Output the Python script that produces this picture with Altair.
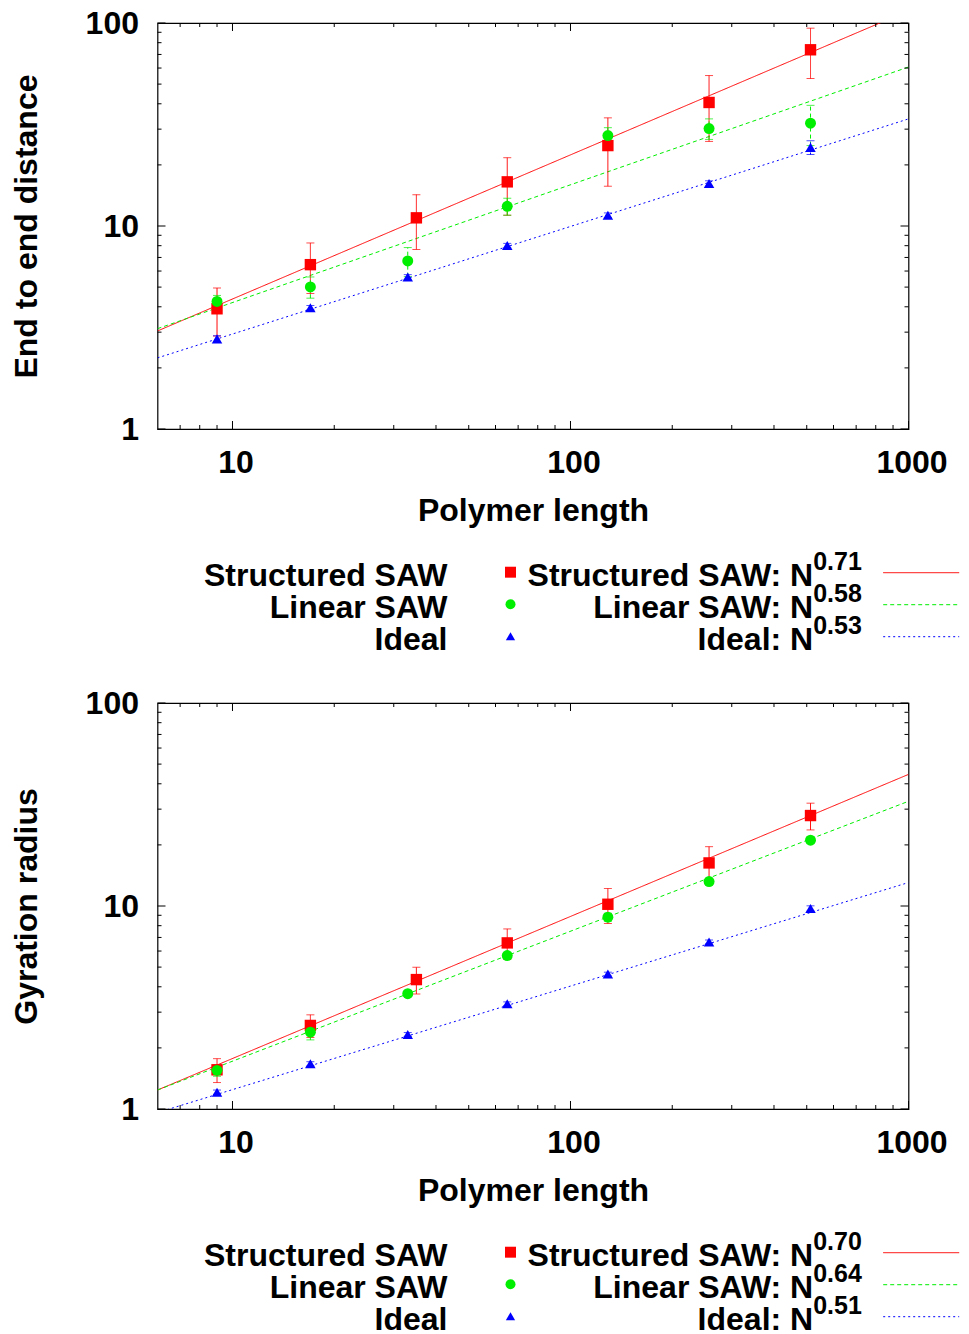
import altair as alt
import pandas as pd

# ---------------- data ----------------
SERIES = ["Structured SAW", "Linear SAW", "Ideal"]
FIT_LABELS = ["Structured SAW: N", "Linear SAW: N", "Ideal: N"]
COLORS = ["#ff0000", "#00ee00", "#0000ff"]
SHAPES = ["square", "circle", "triangle-up"]
SIZES = [130, 110, 95]
DASHES = [[1, 0], [4, 3], [2, 3]]

N_STRUCT = [9, 17, 35, 65, 129, 257, 513]
N_LIN = [9, 17, 33, 65, 129, 257, 513]
N_IDEAL = [9, 17, 33, 65, 129, 257, 513]

# panel 1: end to end distance
E2E_STRUCT = [3.91, 6.45, 10.97, 16.5, 24.9, 40.6, 73.8]
E2E_STRUCT_ERR = [1.04, 1.8, 3.3, 5.2, 9.2, 14.5, 20.5]
E2E_LIN = [4.25, 5.01, 6.73, 12.5, 27.9, 30.2, 32.1]
E2E_LIN_ERR = [0.3, 0.6, 1.1, 1.2, 2.6, 3.5, 7.2]
E2E_IDEAL = [2.78, 3.96, 5.61, 8.01, 11.3, 16.2, 24.4]
E2E_IDEAL_ERR = [0.1, 0.1, 0.15, 0.2, 0.3, 0.5, 1.9]
E2E_EXP = ["0.71", "0.58", "0.53"]
E2E_FIT_START = [3.04, 3.12, 2.24]      # fit value at N = 6
E2E_FIT_END = [114.9, 60.7, 33.7]       # fit value at N = 1000

# panel 2: gyration radius
RG_STRUCT = [1.56, 2.58, 4.34, 6.58, 10.2, 16.3, 27.9]
RG_STRUCT_ERR = [0.21, 0.33, 0.65, 1.13, 2.0, 3.3, 4.2]
RG_LIN = [1.55, 2.39, 3.70, 5.70, 8.81, 13.2, 21.1]
RG_LIN_ERR = [0.1, 0.2, 0.1, 0.15, 0.4, 0.5, 0.8]
RG_IDEAL = [1.21, 1.67, 2.33, 3.30, 4.62, 6.65, 9.72]
RG_IDEAL_ERR = [0.03, 0.04, 0.05, 0.07, 0.1, 0.15, 0.3]
RG_EXP = ["0.70", "0.64", "0.51"]
RG_FIT_START = [1.24, 1.24, 0.96]
RG_FIT_END = [44.5, 32.8, 13.05]

FIT_N = [6, 1000]
X_TICKS = [10, 100, 1000]
X_MINOR = [7, 8, 9, 20, 30, 40, 50, 60, 70, 80, 90,
           200, 300, 400, 500, 600, 700, 800, 900]
Y_TICKS = [1, 10, 100]
Y_MINOR = [2, 3, 4, 5, 6, 7, 8, 9, 20, 30, 40, 50, 60, 70, 80, 90]

# ---------------- layout / style ----------------
W, H = 751, 406
FONT = "Liberation Sans"
FS = 32
EXP_FS = 25
MAJOR_LEN, MINOR_LEN = 8, 4

LEG_LEFT_X = 290
LEG_SYM_X = 353
LEG_RIGHT_X = 655.7
LEG_LINE_X1, LEG_LINE_X2 = 725.7, 801.7
LEG_BASE_Y = 562.7
LEG_ROW = 32
SYM_DY = -13.5
EXP_DY = -15.3
LINE_DY = -13


def panel(ytitle, vals, errs, exps, fit_start, fit_end):
    rows = []
    for s, ns, v, e in zip(SERIES, [N_STRUCT, N_LIN, N_IDEAL], vals, errs):
        for n, vv, ee in zip(ns, v, e):
            rows.append({"series": s, "N": n, "v": vv, "lo": vv - ee, "hi": vv + ee})
    df = pd.DataFrame(rows)
    fit = pd.DataFrame([{"series": s, "N": n, "v": y}
                        for s, a, b in zip(SERIES, fit_start, fit_end)
                        for n, y in zip(FIT_N, [a, b])])

    xs = alt.Scale(type="log", domain=[6, 1000], nice=False)
    ys = alt.Scale(type="log", domain=[1, 100], nice=False)
    color = alt.Color("series:N", scale=alt.Scale(domain=SERIES, range=COLORS), legend=None)
    dash = alt.StrokeDash("series:N", scale=alt.Scale(domain=SERIES, range=DASHES), legend=None)

    xaxis = alt.Axis(values=X_TICKS, format="d", ticks=False, tickSize=0, domain=False,
                     grid=False, labelFont=FONT, labelFontSize=FS, labelFontWeight="bold",
                     labelColor="black", labelPadding=18, labelOffset=3, labelFlush=False,
                     labelOverlap=False, title="Polymer length", titleFont=FONT,
                     titleFontSize=FS, titleFontWeight="bold", titleColor="black",
                     titleBaseline="alphabetic", titleY=91)
    yaxis = alt.Axis(values=Y_TICKS, format="d", ticks=False, tickSize=0, domain=False,
                     grid=False, labelFont=FONT, labelFontSize=FS, labelFontWeight="bold",
                     labelColor="black", labelPadding=19, labelFlush=False,
                     labelOverlap=False, title=ytitle, titleFont=FONT,
                     titleFontSize=FS, titleFontWeight="bold", titleColor="black",
                     titleAngle=270, titleBaseline="alphabetic", titleAlign="center",
                     titleX=-121, titleY=H / 2)

    X = alt.X("N:Q", scale=xs, axis=xaxis)
    Y = alt.Y("v:Q", scale=ys, axis=yaxis)

    lines = alt.Chart(fit).mark_line(clip=True, strokeWidth=1).encode(
        x=X, y=Y, color=color, strokeDash=dash, detail="series:N")
    ebars = alt.Chart(df).mark_rule(strokeWidth=1).encode(
        x=alt.X("N:Q", scale=xs), y=alt.Y("lo:Q", scale=ys), y2="hi:Q",
        color=color, strokeDash=dash)
    cap_lo = alt.Chart(df).mark_tick(orient="horizontal", size=8, thickness=1).encode(
        x=alt.X("N:Q", scale=xs), y=alt.Y("lo:Q", scale=ys), color=color)
    cap_hi = alt.Chart(df).mark_tick(orient="horizontal", size=8, thickness=1).encode(
        x=alt.X("N:Q", scale=xs), y=alt.Y("hi:Q", scale=ys), color=color)
    pts = alt.Chart(df).mark_point(filled=True, opacity=1).encode(
        x=X, y=Y, color=color,
        shape=alt.Shape("series:N", scale=alt.Scale(domain=SERIES, range=SHAPES), legend=None),
        size=alt.Size("series:N", scale=alt.Scale(domain=SERIES, range=SIZES), legend=None))

    layers = [lines, ebars, cap_lo, cap_hi, pts]

    # inward ticks on all four sides
    for vals_, ln in ((X_TICKS, MAJOR_LEN), (X_MINOR, MINOR_LEN)):
        tdf = pd.DataFrame({"N": vals_})
        layers.append(alt.Chart(tdf).mark_rule(color="black", strokeWidth=1).encode(
            x=alt.X("N:Q", scale=xs), y=alt.value(H), y2=alt.value(H - ln)))
        layers.append(alt.Chart(tdf).mark_rule(color="black", strokeWidth=1).encode(
            x=alt.X("N:Q", scale=xs), y=alt.value(0), y2=alt.value(ln)))
    for vals_, ln in ((Y_TICKS, MAJOR_LEN), (Y_MINOR, MINOR_LEN)):
        tdf = pd.DataFrame({"v": vals_})
        layers.append(alt.Chart(tdf).mark_rule(color="black", strokeWidth=1).encode(
            y=alt.Y("v:Q", scale=ys), x=alt.value(0), x2=alt.value(ln)))
        layers.append(alt.Chart(tdf).mark_rule(color="black", strokeWidth=1).encode(
            y=alt.Y("v:Q", scale=ys), x=alt.value(W), x2=alt.value(W - ln)))

    # gnuplot-style key below the plot
    for i in range(3):
        by = LEG_BASE_Y + i * LEG_ROW
        layers.append(alt.Chart(pd.DataFrame({"t": [SERIES[i]]})).mark_text(
            align="right", baseline="alphabetic", font=FONT, fontSize=FS,
            fontWeight="bold", color="black").encode(
            text="t:N", x=alt.value(LEG_LEFT_X), y=alt.value(by)))
        layers.append(alt.Chart(pd.DataFrame({"t": [SERIES[i]]})).mark_point(
            filled=True, opacity=1, shape=SHAPES[i], size=SIZES[i] - 10,
            color=COLORS[i]).encode(x=alt.value(LEG_SYM_X), y=alt.value(by + SYM_DY)))
        layers.append(alt.Chart(pd.DataFrame({"t": [FIT_LABELS[i]]})).mark_text(
            align="right", baseline="alphabetic", font=FONT, fontSize=FS,
            fontWeight="bold", color="black").encode(
            text="t:N", x=alt.value(LEG_RIGHT_X), y=alt.value(by)))
        layers.append(alt.Chart(pd.DataFrame({"t": [exps[i]]})).mark_text(
            align="left", baseline="alphabetic", font=FONT, fontSize=EXP_FS,
            fontWeight="bold", color="black").encode(
            text="t:N", x=alt.value(LEG_RIGHT_X), y=alt.value(by + EXP_DY)))
        layers.append(alt.Chart(pd.DataFrame({"t": [SERIES[i]]})).mark_rule(
            color=COLORS[i], strokeWidth=1, strokeDash=DASHES[i]).encode(
            x=alt.value(LEG_LINE_X1), x2=alt.value(LEG_LINE_X2),
            y=alt.value(by + LINE_DY)))

    return alt.layer(*layers).properties(width=W, height=H)


top = panel("End to end distance",
            [E2E_STRUCT, E2E_LIN, E2E_IDEAL],
            [E2E_STRUCT_ERR, E2E_LIN_ERR, E2E_IDEAL_ERR],
            E2E_EXP, E2E_FIT_START, E2E_FIT_END)
bottom = panel("Gyration radius",
               [RG_STRUCT, RG_LIN, RG_IDEAL],
               [RG_STRUCT_ERR, RG_LIN_ERR, RG_IDEAL_ERR],
               RG_EXP, RG_FIT_START, RG_FIT_END)

chart = alt.vconcat(top, bottom, spacing=274, bounds="flush").properties(
    padding={"left": 1.5, "top": -2, "right": 0, "bottom": 0},
    background="white",
).configure_view(stroke="black", strokeWidth=1.2)

chart.save("out.html", embed_options={"renderer": "svg", "actions": False})
